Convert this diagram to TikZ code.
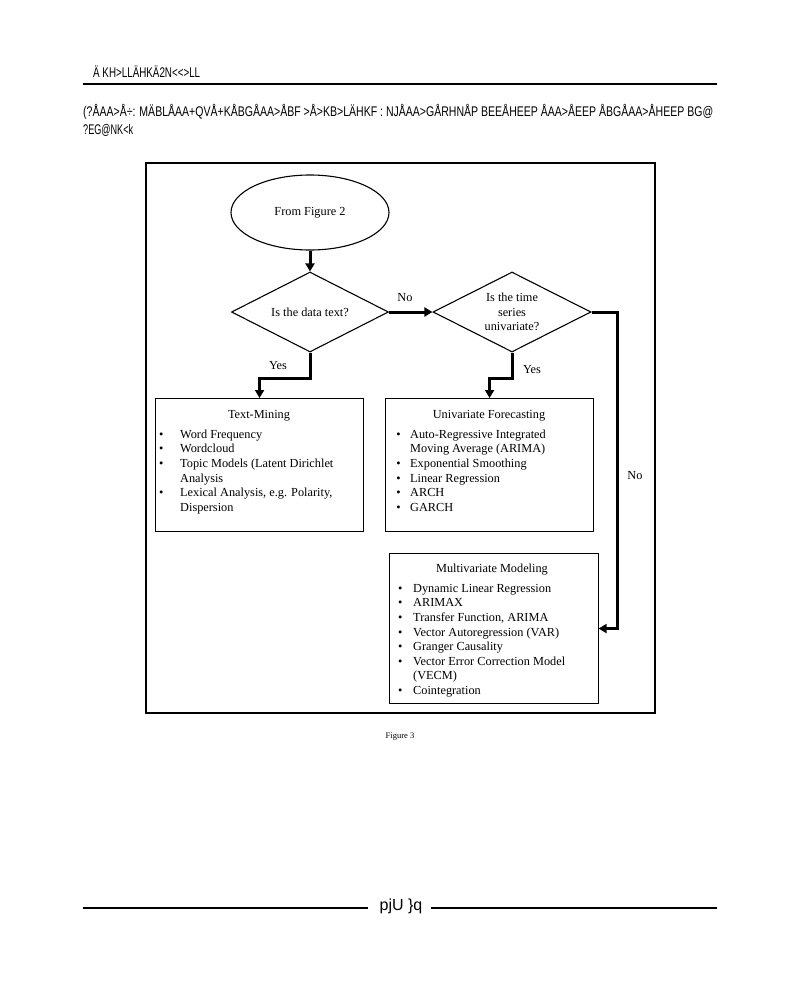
\documentclass[tikz,border=0pt]{standalone}
\usepackage{graphicx}
\usepackage{fontspec}
\setmainfont{Liberation Serif}
\newfontfamily\hdrfont{Liberation Sans}
\usetikzlibrary{shapes.geometric,arrows.meta}
\newcommand{\bul}[1]{\makebox[#1][l]{\textbullet}}
\begin{document}
\begin{tikzpicture}[x=1pt,y=-1pt,
  every node/.style={font=\fontsize{12.3}{14.6}\selectfont, inner sep=0pt},
  shapeline/.style={draw=black, line width=1.1pt},
  boxline/.style={shapeline, rectangle, anchor=north west},
  conn/.style={draw=black, line width=3pt, line join=miter, -{Triangle[width=9pt,length=8pt]}},
  lbl/.style={font=\fontsize{12.3}{14}\selectfont},
  hdr/.style={font=\hdrfont\fontsize{14}{16}\selectfont, anchor=west},
  rulel/.style={draw=black, line width=1.2pt},
  listtext/.style={anchor=north west, align=left},
  ttl/.style={anchor=base},
  ]
\useasboundingbox (0,0) rectangle (800,985);
\fill[white] (0,0) rectangle (800,985);

% page header / footer
\node[hdr] (h1) at (93,72) {\resizebox{107pt}{\height}{Ä KH>LLÄHKÄ2N<<>LL}};
\draw[rulel] (83,84) -- (717,84);
\node[hdr] (h2) at (83,112) {\resizebox{630pt}{\height}{(?ÅAA>Å÷: MÄBLÅAA+QVÅ+KÅBGÅAA>ÅBF >Å>KB>LÄHKF : NJÅAA>GÅRHNÅP BEEÅHEEP ÅAA>ÅEEP ÅBGÅAA>ÅHEEP BG@}};
\node[hdr] (h3) at (83,130) {\resizebox{50pt}{\height}{?EG@NK<k}};
\draw[rulel] (83,908) -- (368,908);
\draw[rulel] (431,908) -- (717,908);
\node (ft) at (401,906) {\hdrfont\fontsize{16}{18}\selectfont pjU \}q};

% frame
\node[draw=black, line width=2pt, rectangle, anchor=north west, minimum width=509pt, minimum height=550pt] (frame) at (145,162) {};

% shapes
\node[shapeline, ellipse, minimum width=158pt, minimum height=75pt] (start) at (310,212.5) {From Figure 2};
\node[shapeline, diamond, aspect=2, minimum width=157pt, minimum height=80pt] (d1) at (310,312) {Is the data text?};
\node[shapeline, diamond, aspect=2, minimum width=158pt, minimum height=80pt, align=center] (d2) at (512,312) {Is the time\\series\\univariate?};

\node[boxline, minimum width=208pt, minimum height=133pt] (tm) at (155,398) {};
\node[boxline, minimum width=208pt, minimum height=133pt] (uf) at (385,398) {};
\node[boxline, minimum width=209pt, minimum height=150pt] (mm) at (388.5,553) {};

% box contents
\node[ttl] (tmt) at (259,418) {Text-Mining};
\node[listtext] (tml) at (159,429) {\rule{0pt}{9pt}\bul{21pt}Word Frequency\\
\bul{21pt}Wordcloud\\
\bul{21pt}Topic Models (Latent Dirichlet\\
\hspace*{21pt}Analysis\\
\bul{21pt}Lexical Analysis, e.g. Polarity,\\
\hspace*{21pt}Dispersion};

\node[ttl] (uft) at (489,418) {Univariate Forecasting};
\node[listtext] (ufl) at (396.2,429) {\rule{0pt}{9pt}\bul{13.8pt}Auto-Regressive Integrated\\
\hspace*{13.8pt}Moving Average (ARIMA)\\
\bul{13.8pt}Exponential Smoothing\\
\bul{13.8pt}Linear Regression\\
\bul{13.8pt}ARCH\\
\bul{13.8pt}GARCH};

\node[ttl] (mmt) at (492,572) {Multivariate Modeling};
\node[listtext] (mml) at (397.9,583) {\rule{0pt}{9pt}\bul{15.1pt}Dynamic Linear Regression\\
\bul{15.1pt}ARIMAX\\
\bul{15.1pt}Transfer Function, ARIMA\\
\bul{15.1pt}Vector Autoregression (VAR)\\
\bul{15.1pt}Granger Causality\\
\bul{15.1pt}Vector Error Correction Model\\
\hspace*{15.1pt}(VECM)\\
\bul{15.1pt}Cointegration};

% connectors
\coordinate (y1) at (310,378);
\coordinate (y2) at (512,378);
\coordinate (rc) at (617,312);
\draw[conn] (start.south) -- (d1.north);
\draw[conn] (d1.east) -- (d2.west);
\draw[conn] (d1.south) -- (y1) -| (tm.north);
\draw[conn] (d2.south) -- (y2) -| (uf.north);
\draw[conn] (d2.east) -- (rc) |- (mm.east);

% labels
\node[lbl] (lno1) at (405,298) {No};
\node[lbl] (lyes1) at (278,366) {Yes};
\node[lbl] (lyes2) at (532,370) {Yes};
\node[lbl] (lno2) at (635,476) {No};

\node[font=\fontsize{8.5}{10}\selectfont] (cap) at (400,737) {Figure 3};
\end{tikzpicture}
\end{document}
